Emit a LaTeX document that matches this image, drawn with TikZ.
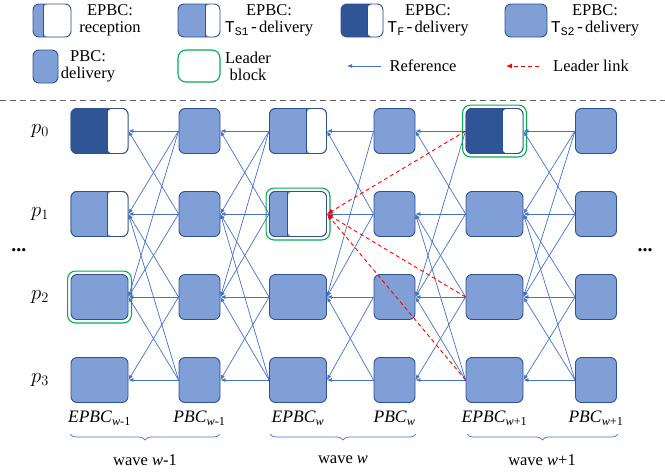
\documentclass[tikz,border=0pt]{standalone}
\usepackage{amsmath}
\usepackage{fontspec}
\setmainfont{Liberation Serif}
\setmonofont{Liberation Mono}
\usetikzlibrary{arrows.meta,fit,decorations.pathreplacing}
\definecolor{lblue}{RGB}{127,159,214}
\definecolor{dblue}{RGB}{47,85,151}
\definecolor{bdr}{RGB}{47,82,143}
\definecolor{refc}{RGB}{68,114,196}
\definecolor{leadc}{RGB}{0,176,80}
\tikzset{
  blk/.style={draw=bdr, fill=lblue, rounded corners=6pt, line width=0.9pt, inner sep=0pt},
  ebox/.style={blk, minimum width=57pt, minimum height=45pt},
  pbox/.style={blk, minimum width=41pt, minimum height=45pt},
  wpart/.style={path picture={
      \fill[white] ([xshift=#1]path picture bounding box.south west)
        rectangle (path picture bounding box.north east);
      \draw[bdr, line width=0.7pt] ([xshift=#1]path picture bounding box.south west)
        -- ([xshift=#1]path picture bounding box.north west);}},
  leader/.style={draw=leadc, line width=1.1pt, rounded corners=8pt, inner sep=3pt},
  refline/.style={refc, line width=0.7pt, -{Latex[length=5pt,width=4pt]}},
  leadline/.style={red, line width=0.9pt, dash pattern=on 4pt off 3pt, -{Latex[length=6pt,width=5pt]}},
  txt/.style={font=\fontsize{16.5}{17}\selectfont, align=center, inner sep=0pt},
  plab/.style={font=\fontsize{20}{20}\selectfont, inner sep=0pt},
  clab/.style={font=\fontsize{17.5}{18}\selectfont, inner sep=0pt},
}
\begin{document}
\begin{tikzpicture}[x=1pt,y=-1pt]
  \useasboundingbox (0,0) rectangle (665,472);
  % legend
  \node[blk, minimum width=38pt, minimum height=33pt, wpart=10pt] (lg1) at (52,20.5) {};
  \node[txt] (lt1) at (110,20.5) {EPBC:\\reception};
  \node[blk, minimum width=42pt, minimum height=33pt, wpart=27pt] (lg2) at (199,20.5) {};
  \node[txt] (lt2) at (269,20.5) {EPBC:\\{\ttfamily T\textsubscript{S1}-}delivery};
  \node[blk, fill=dblue, minimum width=42pt, minimum height=33pt, wpart=26pt] (lg3) at (362,20.5) {};
  \node[txt] (lt3) at (428,20.5) {EPBC:\\{\ttfamily T\textsubscript{F}-}delivery};
  \node[blk, minimum width=42pt, minimum height=33pt] (lg4) at (526,20.5) {};
  \node[txt] (lt4) at (595,20.5) {EPBC:\\{\ttfamily T\textsubscript{S2}-}delivery};
  \node[blk, minimum width=25pt, minimum height=33pt] (lg5) at (45.5,66.5) {};
  \node[txt] (lt5) at (88,66.5) {PBC:\\delivery};
  \node[leader, inner sep=0pt, minimum width=42pt, minimum height=32pt] (lg6) at (199,66) {};
  \node[txt] (lt6) at (248,66) {Leader\\block};
  \coordinate (ra) at (381,66);
  \coordinate (rb) at (347,66);
  \draw[refline] (ra) -- (rb);
  \node[txt] (lt7) at (423,66) {Reference};
  \coordinate (la) at (539,66);
  \coordinate (lb) at (506,66);
  \draw[leadline] (la) -- (lb);
  \node[txt] (lt8) at (591,66) {Leader link};
  \draw[gray!80!black, line width=0.9pt, dash pattern=on 6pt off 4pt] (0,100) -- (665,100);

  % blocks: columns 1..6, processes 0..3
  \foreach \c/\x in {1/99.5,3/298,5/494.5}
    \foreach \r/\y in {0/131,1/214,2/297,3/380}
      \node[ebox] (n-\c-\r) at (\x,\y) {};
  \foreach \c/\x in {2/199.5,4/394.5,6/596}
    \foreach \r/\y in {0/131,1/214,2/297,3/380}
      \node[pbox] (n-\c-\r) at (\x,\y) {};
  % partly delivered blocks
  \node[ebox, fill=dblue, wpart=36pt] at (n-1-0) {};
  \node[ebox, wpart=36pt] at (n-1-1) {};
  \node[ebox, wpart=37pt] at (n-3-0) {};
  \node[ebox, wpart=18pt] at (n-3-1) {};
  \node[ebox, fill=dblue, wpart=36pt] at (n-5-0) {};
  % leaders
  \node[leader, fit=(n-1-2)] (ld1) {};
  \node[leader, fit=(n-3-1)] (ld2) {};
  \node[leader, fit=(n-5-0)] (ld3) {};

  % references
  \foreach \c/\p in {2/1,3/2,6/5}
    \foreach \a/\b in {0/0,0/1,0/2,1/0,1/1,1/2,2/1,2/2,2/3,3/1,3/2,3/3}
      \draw[refline] (n-\c-\a.west) -- (n-\p-\b.east);
  \foreach \a/\b in {0/0,0/2,1/0,1/1,1/2,2/2,2/3,3/2,3/3}
    \draw[refline] (n-4-\a.west) -- (n-3-\b.east);
  \foreach \a/\b in {0/0,0/2,1/0,1/1,1/2,2/1,2/2,2/3,3/1,3/2,3/3}
    \draw[refline] (n-5-\a.west) -- (n-4-\b.east);
  % leader links
  \foreach \a in {0,2,3}
    \draw[leadline] (n-5-\a.west) -- (n-3-1.east);

  % processes
  \foreach \r/\y in {0/131,1/214,2/297,3/380}
    \node[plab] (p\r) at (40,\y) {$p_{\r}$};
  \node[plab] (dl) at (19,250) {\textbf{...}};
  \node[plab] (dr) at (645,250) {\textbf{...}};

  % rounds and waves
  \node[clab] (c1) at (99.5,418) {\textit{EPBC}\textsubscript{\textit{w}-1}};
  \node[clab] (c2) at (199.5,418) {\textit{PBC}\textsubscript{\textit{w}-1}};
  \node[clab] (c3) at (298,418) {\textit{EPBC}\textsubscript{\textit{w}}};
  \node[clab] (c4) at (394.5,418) {\textit{PBC}\textsubscript{\textit{w}}};
  \node[clab] (c5) at (494.5,418) {\textit{EPBC}\textsubscript{\textit{w}+1}};
  \node[clab] (c6) at (596,418) {\textit{PBC}\textsubscript{\textit{w}+1}};
  \draw[refc, line width=0.7pt, decorate, decoration={brace, mirror, amplitude=6pt}]
    (70,434) -- (220,434);
  \draw[refc, line width=0.7pt, decorate, decoration={brace, mirror, amplitude=6pt}]
    (270,434) -- (416,434);
  \draw[refc, line width=0.7pt, decorate, decoration={brace, mirror, amplitude=6pt}]
    (467,434) -- (618,434);
  \node[txt] (w1) at (145,460) {wave \textit{w}-1};
  \node[txt] (w2) at (343,460) {wave \textit{w}};
  \node[txt] (w3) at (542,460) {wave \textit{w}+1};
\end{tikzpicture}
\end{document}
